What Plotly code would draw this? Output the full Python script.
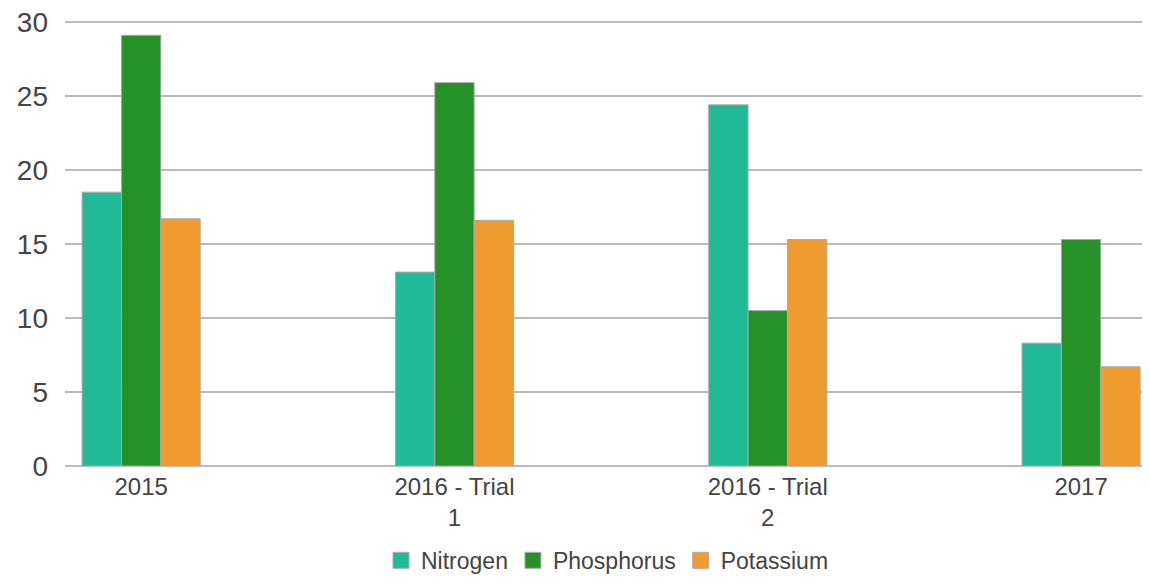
import plotly.graph_objects as go

categories = ["2015", "2016 - Trial<br>1", "2016 - Trial<br>2", "2017"]
nitrogen = [18.5, 13.1, 24.4, 8.3]
phosphorus = [29.1, 25.9, 10.5, 15.3]
potassium = [16.7, 16.6, 15.3, 6.7]

series = [
    ("Nitrogen", nitrogen, "#20bb96"),
    ("Phosphorus", phosphorus, "#259128"),
    ("Potassium", potassium, "#f09b30"),
]

fig = go.Figure()
for name, vals, col in series:
    fig.add_trace(go.Bar(
        x=categories, y=vals, name=name, showlegend=False,
        marker=dict(color=col, line=dict(color="#aaaaaa", width=1)),
    ))
# legend entries with square swatches
for name, vals, col in series:
    fig.add_trace(go.Scatter(
        x=[categories[0]], y=[None], name=name, mode="markers",
        marker=dict(symbol="square", size=18, color=col, line=dict(color="#aaaaaa", width=1)),
        showlegend=True, hoverinfo="skip",
    ))

fig.update_layout(
    width=1142, height=575,
    margin=dict(l=57, r=0, t=11, b=117, autoexpand=False),
    paper_bgcolor="white", plot_bgcolor="white",
    barmode="group", bargap=0.623, bargroupgap=0,
    font=dict(family="Liberation Sans, Arial, sans-serif", color="#444444"),
    xaxis=dict(range=[-0.243, 3.22], showgrid=False, ticks="",
               tickfont=dict(size=24, color="#444444"), showline=False,
               ticklabelstandoff=4, automargin=False),
    yaxis=dict(range=[0, 30.2], tickvals=[0, 5, 10, 15, 20, 25, 30],
               showgrid=True, gridcolor="#bbbbbb", gridwidth=2,
               zeroline=True, zerolinecolor="#bbbbbb", zerolinewidth=2,
               tickfont=dict(size=28, color="#444444"), ticklabelstandoff=16,
               ticklabeloverflow="allow", automargin=False),
    legend=dict(orientation="h", x=0.5, xanchor="center", y=-0.163, yanchor="top",
                font=dict(size=23, color="#444444"), itemsizing="trace",
                traceorder="normal", tracegroupgap=0),
    showlegend=True,
)

fig.write_html("out.html")
